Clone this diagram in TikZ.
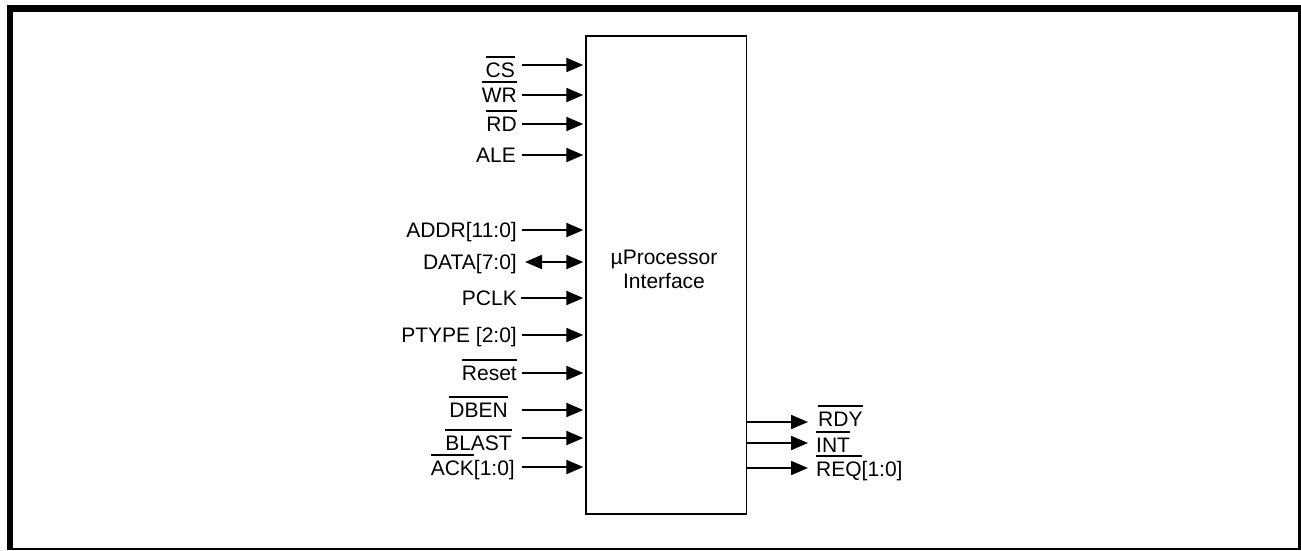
\documentclass[tikz,border=0pt]{standalone}
\usepackage{fontspec}
\setmainfont{Liberation Sans}
\usetikzlibrary{positioning, arrows.meta}

% overlined signal name (active low)
\newcommand\ovl[1]{\setbox0\hbox{#1}\rlap{\rule[19.5pt]{\wd0}{1.6pt}}\box0}

\begin{document}
\begin{tikzpicture}[
  x=1pt, y=-1pt,
  font=\fontsize{21}{24}\selectfont,
  blockbox/.style={draw, line width=1.5pt, minimum width=160.5pt, minimum height=478pt, inner sep=0pt},
  inlbl/.style={anchor=east, inner sep=0pt, text height=15pt, text depth=0pt},
  outlbl/.style={anchor=west, inner sep=0pt, text height=15pt, text depth=0pt},
  sig/.style={-{Triangle[length=17pt, width=14pt]}, line width=2pt, shorten >=2pt},
  bisig/.style={{Triangle[length=17pt, width=14pt]}-{Triangle[length=17pt, width=14pt]},
    line width=2pt, shorten >=2pt}
]
\useasboundingbox (0,0) rectangle (1301,550);

% --- Frame: heavy top/left, light right/bottom ---
\draw[line width=6.5pt] (10,550) -- (10,8.5) -- (1301,8.5);
\draw[line width=2.5pt] (1299.5,8.5) -- (1299.5,549) -- (10,549);

% --- The interface block ---
\node[blockbox] (upi) at (666.3,274.9) {};
\node[align=center] (upitxt) at (664,269) {µProcessor\\Interface};

% --- Inputs (left side) ---
\coordinate (cs-in)    at (522,65);
\coordinate (wr-in)    at (522,95);
\coordinate (rd-in)    at (522,124);
\coordinate (ale-in)   at (522,155);
\coordinate (addr-in)  at (522,230);
\coordinate (data-in)  at (525,262);
\coordinate (pclk-in)  at (521,298);
\coordinate (ptype-in) at (522,335);
\coordinate (reset-in) at (522,373);
\coordinate (dben-in)  at (522,410);
\coordinate (blast-in) at (522,438);
\coordinate (ack-in)   at (522,467);

\node[inlbl, left=7pt of cs-in, yshift=-5pt] (cs) {\ovl{CS}};
\node[inlbl, left=5pt of wr-in]    (wr)    {\ovl{WR}};
\node[inlbl, left=5pt of rd-in]    (rd)    {\ovl{RD}};
\node[inlbl, left=6pt of ale-in]   (ale)   {ALE};
\node[inlbl, left=5pt of addr-in]  (addr)  {ADDR[11:0]};
\node[inlbl, left=8pt of data-in]  (data)  {DATA[7:0]};
\node[inlbl, left=4pt of pclk-in]  (pclk)  {PCLK};
\node[inlbl, left=5pt of ptype-in] (ptype) {PTYPE [2:0]};
\node[inlbl, left=5pt of reset-in] (reset) {\ovl{Reset}};
\node[inlbl, left=14pt of dben-in] (dben)  {\ovl{DBEN}};
\node[inlbl, left=10pt of blast-in, yshift=-4.5pt] (blast) {\ovl{BLAST}};
\node[inlbl, left=7pt of ack-in, yshift=-1pt] (ack) {\ovl{ACK}[1:0]};

\draw[sig]   (cs-in)    -- (cs-in -| upi.west);
\draw[sig]   (wr-in)    -- (wr-in -| upi.west);
\draw[sig]   (rd-in)    -- (rd-in -| upi.west);
\draw[sig]   (ale-in)   -- (ale-in -| upi.west);
\draw[sig]   (addr-in)  -- (addr-in -| upi.west);
\draw[bisig] (data-in)  -- (data-in -| upi.west);
\draw[sig]   (pclk-in)  -- (pclk-in -| upi.west);
\draw[sig]   (ptype-in) -- (ptype-in -| upi.west);
\draw[sig]   (reset-in) -- (reset-in -| upi.west);
\draw[sig]   (dben-in)  -- (dben-in -| upi.west);
\draw[sig]   (blast-in) -- (blast-in -| upi.west);
\draw[sig]   (ack-in)   -- (ack-in -| upi.west);

% --- Outputs (right side) ---
\coordinate (rdy-out) at (810,422);
\coordinate (int-out) at (810,443);
\coordinate (req-out) at (810,468);

\draw[sig] (rdy-out -| upi.east) -- (rdy-out);
\draw[sig] (int-out -| upi.east) -- (int-out);
\draw[sig] (req-out -| upi.east) -- (req-out);

\node[outlbl, right=8pt of rdy-out, yshift=3pt] (rdy) {\ovl{RDY}};
\node[outlbl, right=6pt of int-out, yshift=-1.5pt] (int) {\ovl{INT}};
\node[outlbl, right=6pt of req-out, yshift=-1pt] (req) {\ovl{REQ}[1:0]};

\end{tikzpicture}
\end{document}
